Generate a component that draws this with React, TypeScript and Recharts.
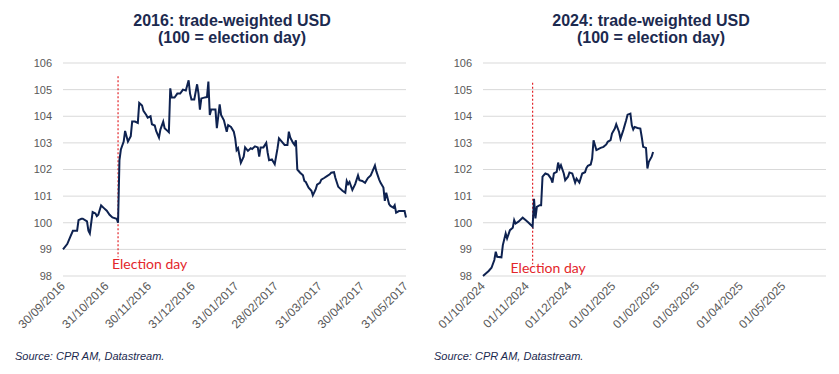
import React from 'react';
import {
  LineChart,
  Line,
  XAxis,
  YAxis,
  CartesianGrid,
  ReferenceLine,
  ReferenceDot,
} from 'recharts';

// 2016 series (trade-weighted USD, 100 = 08/11/2016)
const dates2016 = [
  '2016-09-30', '2016-10-03', '2016-10-05', '2016-10-07', '2016-10-10', '2016-10-11', '2016-10-13', '2016-10-14',
  '2016-10-17', '2016-10-18', '2016-10-19', '2016-10-21', '2016-10-23', '2016-10-24', '2016-10-25', '2016-10-27',
  '2016-10-29', '2016-10-31', '2016-11-02', '2016-11-04', '2016-11-07', '2016-11-08', '2016-11-09', '2016-11-10',
  '2016-11-12', '2016-11-13', '2016-11-15', '2016-11-17', '2016-11-18', '2016-11-20', '2016-11-22', '2016-11-23',
  '2016-11-25', '2016-11-26', '2016-11-28', '2016-11-29', '2016-12-01', '2016-12-02', '2016-12-04', '2016-12-05',
  '2016-12-07', '2016-12-08', '2016-12-10', '2016-12-11', '2016-12-13', '2016-12-14', '2016-12-15', '2016-12-16',
  '2016-12-18', '2016-12-20', '2016-12-22', '2016-12-24', '2016-12-26', '2016-12-28', '2016-12-29', '2016-12-30',
  '2017-01-01', '2017-01-03', '2017-01-04', '2017-01-05', '2017-01-06', '2017-01-08', '2017-01-10', '2017-01-11',
  '2017-01-12', '2017-01-13', '2017-01-16', '2017-01-17', '2017-01-19', '2017-01-20', '2017-01-22', '2017-01-24',
  '2017-01-25', '2017-01-27', '2017-01-29', '2017-01-30', '2017-01-31', '2017-02-01', '2017-02-03', '2017-02-05',
  '2017-02-06', '2017-02-08', '2017-02-10', '2017-02-11', '2017-02-13', '2017-02-15', '2017-02-16', '2017-02-17',
  '2017-02-19', '2017-02-21', '2017-02-22', '2017-02-23', '2017-02-25', '2017-02-27', '2017-03-01', '2017-03-02',
  '2017-03-04', '2017-03-06', '2017-03-08', '2017-03-09', '2017-03-10', '2017-03-12', '2017-03-13', '2017-03-14',
  '2017-03-15', '2017-03-17', '2017-03-19', '2017-03-20', '2017-03-21', '2017-03-23', '2017-03-25', '2017-03-26',
  '2017-03-28', '2017-03-29', '2017-03-31', '2017-04-01', '2017-04-03', '2017-04-05', '2017-04-07', '2017-04-08',
  '2017-04-10', '2017-04-11', '2017-04-13', '2017-04-14', '2017-04-16', '2017-04-18', '2017-04-19', '2017-04-20',
  '2017-04-21', '2017-04-23', '2017-04-25', '2017-04-27', '2017-04-28', '2017-04-30', '2017-05-02', '2017-05-04',
  '2017-05-06', '2017-05-07', '2017-05-09', '2017-05-10', '2017-05-12', '2017-05-13', '2017-05-15', '2017-05-16',
  '2017-05-17', '2017-05-19', '2017-05-20', '2017-05-22', '2017-05-23', '2017-05-24', '2017-05-26', '2017-05-28',
  '2017-05-30', '2017-05-31',
];
const usd2016 = [
  99.0, 99.2, 99.45, 99.7, 99.7, 100.1, 100.15, 100.15,
  100.05, 99.7, 99.6, 100.4, 100.35, 100.25, 100.3, 100.65,
  100.55, 100.45, 100.3, 100.2, 100.15, 100.0, 102.35, 102.75,
  103.05, 103.45, 103.05, 103.25, 103.8, 103.8, 103.75, 104.5,
  104.4, 104.2, 104.05, 103.95, 104.0, 103.7, 103.65, 103.45,
  103.2, 103.5, 103.8, 103.55, 103.45, 103.4, 105.05, 104.7,
  104.7, 104.85, 104.85, 105.0, 104.97, 105.35, 104.85, 104.63,
  104.63, 105.2, 104.85, 104.25, 104.67, 104.7, 104.72, 105.3,
  104.05, 104.25, 104.25, 103.55, 104.45, 104.05, 103.85, 103.42,
  103.67, 103.6, 103.42, 103.17, 102.73, 102.8, 102.25, 102.48,
  102.83, 102.7, 102.8, 102.77, 102.87, 102.83, 102.48, 102.83,
  102.83, 103.0, 102.63, 102.35, 102.38, 102.2, 102.8, 103.17,
  103.05, 102.92, 102.92, 103.42, 103.2, 103.0, 102.93, 103.1,
  102.0, 101.88, 101.78, 101.57, 101.53, 101.32, 101.2, 101.03,
  101.25, 101.43, 101.5, 101.62, 101.68, 101.75, 101.82, 101.88,
  101.9, 101.68, 101.35, 101.3, 101.2, 101.13, 101.57, 101.45,
  101.53, 101.23, 101.45, 101.78, 101.6, 101.57, 101.5, 101.68,
  101.78, 101.9, 102.15, 101.93, 101.62, 101.5, 101.32, 100.82,
  101.13, 100.7, 100.63, 100.57, 100.66, 100.38, 100.44, 100.44,
  100.44, 100.2,
];
const ticks2016 = [
  '30/09/2016', '31/10/2016', '30/11/2016', '31/12/2016', '31/01/2017',
  '28/02/2017', '31/03/2017', '30/04/2017', '31/05/2017',
];
const election2016 = '08/11/2016';

// 2024 series (trade-weighted USD, 100 = 05/11/2024)
const dates2024 = [
  '2024-10-01', '2024-10-05', '2024-10-07', '2024-10-09', '2024-10-10', '2024-10-11', '2024-10-14', '2024-10-15',
  '2024-10-17', '2024-10-18', '2024-10-20', '2024-10-22', '2024-10-23', '2024-10-24', '2024-10-26', '2024-10-28',
  '2024-10-29', '2024-10-31', '2024-11-02', '2024-11-04', '2024-11-05', '2024-11-06', '2024-11-07', '2024-11-08',
  '2024-11-10', '2024-11-11', '2024-11-12', '2024-11-14', '2024-11-16', '2024-11-18', '2024-11-19', '2024-11-20',
  '2024-11-22', '2024-11-23', '2024-11-24', '2024-11-25', '2024-11-27', '2024-11-28', '2024-11-30', '2024-12-01',
  '2024-12-03', '2024-12-05', '2024-12-06', '2024-12-08', '2024-12-10', '2024-12-12', '2024-12-13', '2024-12-14',
  '2024-12-16', '2024-12-17', '2024-12-18', '2024-12-20', '2024-12-21', '2024-12-23', '2024-12-25', '2024-12-27',
  '2024-12-28', '2024-12-30', '2024-12-31', '2025-01-02', '2025-01-03', '2025-01-05', '2025-01-06', '2025-01-08',
  '2025-01-10', '2025-01-11', '2025-01-13', '2025-01-14', '2025-01-15', '2025-01-16', '2025-01-18', '2025-01-20',
  '2025-01-21', '2025-01-22', '2025-01-24', '2025-01-25', '2025-01-26', '2025-01-28', '2025-01-29',
];
const usd2024 = [
  98.0, 98.19, 98.31, 98.6, 98.91, 98.72, 98.7, 99.16,
  99.6, 99.41, 99.72, 99.81, 100.1, 99.97, 100.04, 100.14,
  100.19, 100.1, 100.01, 99.91, 99.85, 100.9, 100.16, 100.6,
  100.66, 100.66, 101.73, 101.85, 101.81, 101.66, 101.51, 101.85,
  101.91, 102.26, 102.04, 102.16, 101.85, 101.6, 101.73, 101.89,
  101.85, 101.51, 101.66, 101.51, 101.85, 101.9, 102.06, 102.14,
  102.19, 102.41, 103.1, 102.73, 102.76, 102.81, 102.85, 102.94,
  103.04, 103.1, 103.35, 103.54, 103.7, 103.41, 103.16, 103.48,
  103.85, 104.06, 104.1, 103.66, 103.5, 103.6, 103.56, 103.54,
  103.22, 102.85, 102.81, 102.04, 102.29, 102.48, 102.66,
];
const ticks2024 = [
  '01/10/2024', '01/11/2024', '01/12/2024', '01/01/2025',
  '01/02/2025', '01/03/2025', '01/04/2025', '01/05/2025',
];
const end2024 = '31/05/2025';
const election2024 = '05/11/2024';

const yTicks = [98, 99, 100, 101, 102, 103, 104, 105, 106];

const isoDay = (s: string) => {
  const [y, m, d] = s.split('-').map(Number);
  return Date.UTC(y, m - 1, d) / 86400000;
};
const dmyDay = (s: string) => {
  const [d, m, y] = s.split('/').map(Number);
  return Date.UTC(y, m - 1, d) / 86400000;
};

const NAVY = '#1c2a4f';
const LINE = '#0e2250';
const RED = '#e3262b';
const GREY = '#595959';
const ARIAL = '"Liberation Sans", Arial, sans-serif';

const DateTick = (props: any) => {
  const { x, y, payload, labels } = props;
  const label = labels.get(payload.value) ?? '';
  return (
    <g transform={`translate(${x},${y})`}>
      <text
        x={0}
        y={0}
        dy={4}
        textAnchor="end"
        transform="rotate(-45)"
        fill={GREY}
        fontSize={12}
        fontFamily={ARIAL}
      >
        {label}
      </text>
    </g>
  );
};

interface PanelProps {
  dates: string[];
  values: number[];
  tickLabels: string[];
  endLabel: string;
  election: string;
  labelDx: number;
  labelY: number;
  lineTop: number;
  lineBottom: number;
  width: number;
  rightMargin: number;
}

const Panel = ({
  dates,
  values,
  tickLabels,
  endLabel,
  election,
  labelDx,
  labelY,
  lineTop,
  lineBottom,
  width,
  rightMargin,
}: PanelProps) => {
  const data = dates.map((d, i) => ({ t: isoDay(d), v: values[i] }));
  const tickDays = tickLabels.map(dmyDay);
  const labels = new Map(tickLabels.map((l) => [dmyDay(l), l]));
  const e = dmyDay(election);
  return (
    <LineChart
      width={width}
      height={374}
      data={data}
      margin={{ top: 63, right: rightMargin, bottom: 0, left: 0 }}
    >
      <CartesianGrid vertical={false} stroke="#d9d9d9" strokeWidth={1} />
      <XAxis
        type="number"
        dataKey="t"
        domain={[tickDays[0], dmyDay(endLabel)]}
        ticks={tickDays}
        interval={0}
        tick={<DateTick labels={labels} />}
        tickLine={false}
        axisLine={false}
        tickSize={0}
        tickMargin={8}
        height={98}
      />
      <YAxis
        type="number"
        domain={[98, 106]}
        ticks={yTicks}
        interval={0}
        tickLine={false}
        axisLine={false}
        tickSize={0}
        tickMargin={11}
        width={63}
        tick={{ fill: GREY, fontSize: 11, fontFamily: ARIAL }}
      />
      <ReferenceLine
        segment={[
          { x: e, y: lineTop },
          { x: e, y: lineBottom },
        ]}
        stroke={RED}
        strokeWidth={1.2}
        strokeDasharray="2 2"
        ifOverflow="visible"
      />
      <ReferenceDot
        x={e}
        y={labelY}
        r={0}
        ifOverflow="visible"
        shape={(p: any) => (
          <text
            x={p.cx + labelDx}
            y={p.cy}
            dy={5}
            textAnchor="start"
            fill={RED}
            fontSize={14}
            fontFamily="Lato, sans-serif"
          >
            Election day
          </text>
        )}
      />
      <Line
        type="linear"
        dataKey="v"
        stroke={LINE}
        strokeWidth={2}
        dot={false}
        isAnimationActive={false}
      />
    </LineChart>
  );
};

const titleStyle: React.CSSProperties = {
  position: 'absolute',
  top: 12,
  width: 300,
  textAlign: 'center',
  fontFamily: ARIAL,
  fontWeight: 'bold',
  fontSize: 16,
  lineHeight: '17px',
  color: NAVY,
};

const sourceStyle: React.CSSProperties = {
  position: 'absolute',
  top: 350,
  fontFamily: ARIAL,
  fontStyle: 'italic',
  fontSize: 11,
  color: NAVY,
};

export default function App() {
  return (
    <div
      style={{
        position: 'absolute',
        left: 0,
        top: 0,
        width: 839,
        height: 374,
        background: '#fff',
        overflow: 'hidden',
      }}
    >
      <div style={{ position: 'absolute', left: 0, top: 0 }}>
        <Panel
          dates={dates2016}
          values={usd2016}
          tickLabels={ticks2016}
          endLabel="31/05/2017"
          election={election2016}
          labelDx={-6}
          labelY={98.45}
          lineTop={105.5}
          lineBottom={98.7}
          width={420}
          rightMargin={14}
        />
      </div>
      <div style={{ position: 'absolute', left: 420, top: 0 }}>
        <Panel
          dates={dates2024}
          values={usd2024}
          tickLabels={ticks2024}
          endLabel={end2024}
          election={election2024}
          labelDx={-22}
          labelY={98.29}
          lineTop={105.26}
          lineBottom={98.44}
          width={419}
          rightMargin={13}
        />
      </div>
      <div style={{ ...titleStyle, left: 232 - 150 }}>
        2016: trade-weighted USD
        <br />
        (100 = election day)
      </div>
      <div style={{ ...titleStyle, left: 651 - 150 }}>
        2024: trade-weighted USD
        <br />
        (100 = election day)
      </div>
      <div style={{ ...sourceStyle, left: 15 }}>Source: CPR AM, Datastream.</div>
      <div style={{ ...sourceStyle, left: 434 }}>Source: CPR AM, Datastream.</div>
    </div>
  );
}
